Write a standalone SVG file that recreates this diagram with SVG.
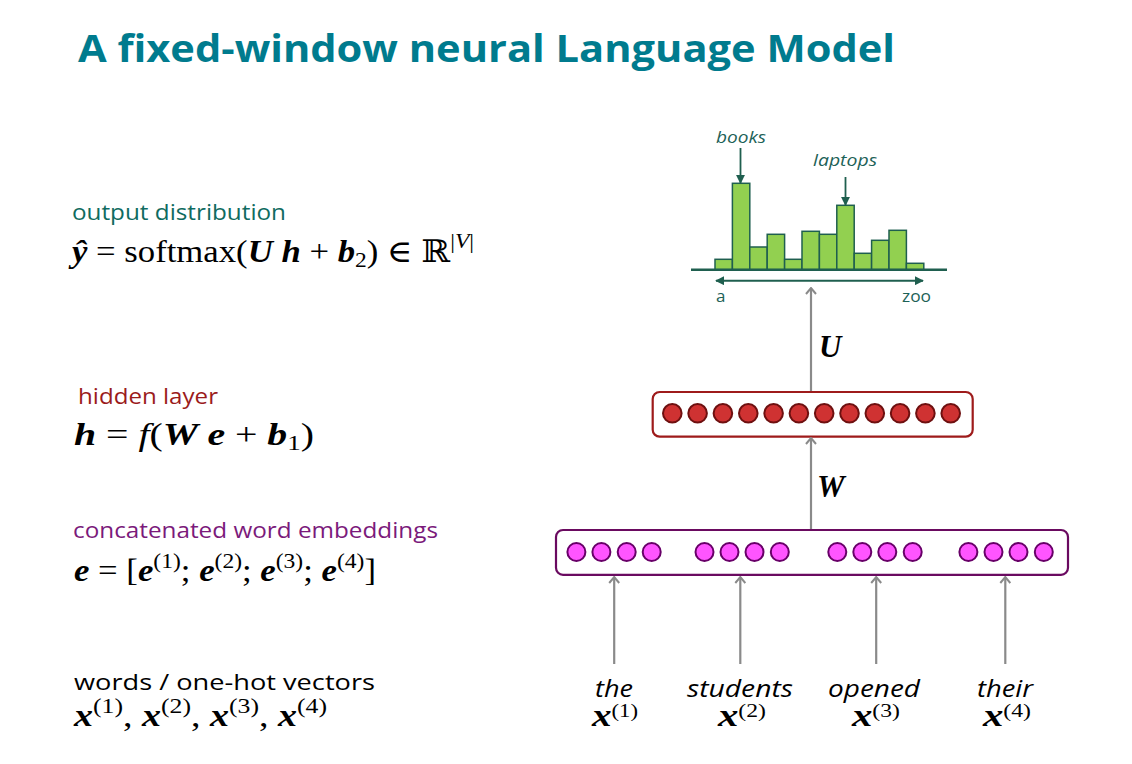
<svg xmlns="http://www.w3.org/2000/svg" width="1132" height="764" viewBox="0 0 1132 764">
<style>
.title{font-family:"Open Sans","Liberation Sans",sans-serif;font-weight:bold;font-size:38px;fill:#007b8e}
.lbl{font-family:"Open Sans","Liberation Sans",sans-serif;font-size:22px}
.math{font-family:"Liberation Serif","DejaVu Serif",serif;font-size:31px;fill:#000}
.bi{font-weight:bold;font-style:italic}
.word{font-family:"Open Sans","Liberation Sans",sans-serif;font-style:italic;font-size:24px;fill:#000}
.hist{font-family:"Open Sans","Liberation Sans",sans-serif;font-size:17px;fill:#1d6257}
.bar{fill:#92d050;stroke:#1f5f4f;stroke-width:1.5}
.hc{fill:#cf3232;stroke:#6e1010;stroke-width:2}
.ec{fill:#ff55ff;stroke:#680068;stroke-width:2}
.conn{stroke:#8a8a8a;stroke-width:2.2;fill:none;marker-end:url(#chev)}
</style>
<defs>
<marker id="chev" viewBox="0 0 10 12" refX="9" refY="6" markerWidth="10" markerHeight="12" markerUnits="userSpaceOnUse" orient="auto-start-reverse">
<path d="M3,1 L9,6 L3,11" fill="none" stroke="#8a8a8a" stroke-width="2"/>
</marker>
<marker id="tri" viewBox="0 0 10 10" refX="9" refY="5" markerWidth="9" markerHeight="9" markerUnits="userSpaceOnUse" orient="auto-start-reverse">
<path d="M0,0 L10,5 L0,10 z" fill="#1f5f4f"/>
</marker>
</defs>

<text class="title" x="78" y="62" textLength="817" lengthAdjust="spacingAndGlyphs">A fixed-window neural Language Model</text>

<g id="labels-left">
<text class="lbl" x="72" y="220" fill="#0f6b60" textLength="214" lengthAdjust="spacingAndGlyphs">output distribution</text>
<text class="math" x="72" y="262" textLength="402" lengthAdjust="spacingAndGlyphs"><tspan class="bi">ŷ</tspan> = softmax(<tspan class="bi">U h</tspan> + <tspan class="bi">b</tspan><tspan font-size="21" dy="5">2</tspan><tspan dy="-5">) ∈ ℝ</tspan><tspan font-size="21" dy="-14">|<tspan font-style="italic">V</tspan>|</tspan></text>
<text class="lbl" x="78" y="404" fill="#9b1b1b" textLength="140" lengthAdjust="spacingAndGlyphs">hidden layer</text>
<text class="math" x="74" y="445" textLength="240" lengthAdjust="spacingAndGlyphs"><tspan class="bi">h</tspan> = <tspan font-style="italic">f</tspan>(<tspan class="bi">W e</tspan> + <tspan class="bi">b</tspan><tspan font-size="21" dy="5">1</tspan><tspan dy="-5">)</tspan></text>
<text class="lbl" x="73" y="538" fill="#7b1a7b" textLength="365" lengthAdjust="spacingAndGlyphs">concatenated word embeddings</text>
<text class="math" x="74" y="581" textLength="302" lengthAdjust="spacingAndGlyphs"><tspan class="bi">e</tspan> = [<tspan class="bi">e</tspan><tspan font-size="21" dy="-13">(1)</tspan><tspan dy="13">; </tspan><tspan class="bi">e</tspan><tspan font-size="21" dy="-13">(2)</tspan><tspan dy="13">; </tspan><tspan class="bi">e</tspan><tspan font-size="21" dy="-13">(3)</tspan><tspan dy="13">; </tspan><tspan class="bi">e</tspan><tspan font-size="21" dy="-13">(4)</tspan><tspan dy="13">]</tspan></text>
<text class="lbl" x="74" y="690" fill="#000" font-size="24" textLength="301" lengthAdjust="spacingAndGlyphs">words / one-hot vectors</text>
<text class="math" x="74" y="726" textLength="253" lengthAdjust="spacingAndGlyphs"><tspan class="bi">x</tspan><tspan font-size="21" dy="-13">(1)</tspan><tspan dy="13">, </tspan><tspan class="bi">x</tspan><tspan font-size="21" dy="-13">(2)</tspan><tspan dy="13">, </tspan><tspan class="bi">x</tspan><tspan font-size="21" dy="-13">(3)</tspan><tspan dy="13">, </tspan><tspan class="bi">x</tspan><tspan font-size="21" dy="-13">(4)</tspan></text>
</g>

<g id="histogram">
<rect class="bar" x="715" y="259.3" width="17.4" height="10.4"/>
<rect class="bar" x="732.4" y="183.3" width="17.4" height="86.4"/>
<rect class="bar" x="749.8" y="247" width="17.4" height="22.7"/>
<rect class="bar" x="767.2" y="234.3" width="17.4" height="35.4"/>
<rect class="bar" x="784.6" y="259.3" width="17.4" height="10.4"/>
<rect class="bar" x="802" y="231.3" width="17.4" height="38.4"/>
<rect class="bar" x="819.4" y="234.3" width="17.4" height="35.4"/>
<rect class="bar" x="836.8" y="205.3" width="17.4" height="64.4"/>
<rect class="bar" x="854.2" y="253.3" width="17.4" height="16.4"/>
<rect class="bar" x="871.6" y="240.3" width="17.4" height="29.4"/>
<rect class="bar" x="889" y="230.3" width="17.4" height="39.4"/>
<rect class="bar" x="906.4" y="263.3" width="17.4" height="6.4"/>
<line x1="691" y1="269.7" x2="947" y2="269.7" stroke="#1f5f4f" stroke-width="2.5"/>
<line x1="716" y1="280.7" x2="923" y2="280.7" stroke="#1f5f4f" stroke-width="2" marker-start="url(#tri)" marker-end="url(#tri)"/>
<text class="hist" x="716" y="302">a</text>
<text class="hist" x="902" y="302" textLength="29" lengthAdjust="spacingAndGlyphs">zoo</text>
<text class="hist" x="716" y="143" font-style="italic" textLength="50" lengthAdjust="spacingAndGlyphs">books</text>
<text class="hist" x="813" y="166" font-style="italic" textLength="64" lengthAdjust="spacingAndGlyphs">laptops</text>
<line x1="740.5" y1="148" x2="740.5" y2="183" stroke="#1f5f4f" stroke-width="1.8" marker-end="url(#tri)"/>
<line x1="845.5" y1="177" x2="845.5" y2="205" stroke="#1f5f4f" stroke-width="1.8" marker-end="url(#tri)"/>
</g>

<g id="hidden-layer">
<rect x="652.7" y="392" width="320" height="44.7" rx="7" fill="#fff" stroke="#9e1b1b" stroke-width="2.2"/>
<circle class="hc" cx="672.3" cy="413.3" r="9.3"/>
<circle class="hc" cx="697.6" cy="413.3" r="9.3"/>
<circle class="hc" cx="722.9" cy="413.3" r="9.3"/>
<circle class="hc" cx="748.3" cy="413.3" r="9.3"/>
<circle class="hc" cx="773.6" cy="413.3" r="9.3"/>
<circle class="hc" cx="798.9" cy="413.3" r="9.3"/>
<circle class="hc" cx="824.2" cy="413.3" r="9.3"/>
<circle class="hc" cx="849.5" cy="413.3" r="9.3"/>
<circle class="hc" cx="874.8" cy="413.3" r="9.3"/>
<circle class="hc" cx="900.1" cy="413.3" r="9.3"/>
<circle class="hc" cx="925.4" cy="413.3" r="9.3"/>
<circle class="hc" cx="950.7" cy="413.3" r="9.3"/>
</g>

<g id="embedding-layer">
<rect x="556" y="530" width="512" height="44.8" rx="7" fill="#fff" stroke="#6a0a60" stroke-width="2.2"/>
<circle class="ec" cx="576.4" cy="552" r="9"/>
<circle class="ec" cx="601.4" cy="552" r="9"/>
<circle class="ec" cx="626.7" cy="552" r="9"/>
<circle class="ec" cx="651.7" cy="552" r="9"/>
<circle class="ec" cx="704.5" cy="552" r="9"/>
<circle class="ec" cx="729.5" cy="552" r="9"/>
<circle class="ec" cx="754.5" cy="552" r="9"/>
<circle class="ec" cx="779.8" cy="552" r="9"/>
<circle class="ec" cx="837.3" cy="552" r="9"/>
<circle class="ec" cx="862.3" cy="552" r="9"/>
<circle class="ec" cx="887.3" cy="552" r="9"/>
<circle class="ec" cx="912.7" cy="552" r="9"/>
<circle class="ec" cx="968.4" cy="552" r="9"/>
<circle class="ec" cx="993.5" cy="552" r="9"/>
<circle class="ec" cx="1018.5" cy="552" r="9"/>
<circle class="ec" cx="1043.8" cy="552" r="9"/>
</g>

<g id="connectors">
<line class="conn" x1="811" y1="391" x2="811" y2="288"/>
<line class="conn" x1="811" y1="529" x2="811" y2="438"/>
<line class="conn" x1="614.2" y1="664" x2="614.2" y2="577"/>
<line class="conn" x1="740.3" y1="664" x2="740.3" y2="577"/>
<line class="conn" x1="876.2" y1="664" x2="876.2" y2="577"/>
<line class="conn" x1="1005.3" y1="664" x2="1005.3" y2="577"/>
</g>

<g id="weight-labels">
<text class="math bi" x="819" y="357" font-size="37">U</text>
<text class="math bi" x="817" y="497" font-size="36">W</text>
</g>

<g id="words">
<text class="word" x="595" y="697" textLength="38" lengthAdjust="spacingAndGlyphs">the</text>
<text class="word" x="687" y="697" textLength="106" lengthAdjust="spacingAndGlyphs">students</text>
<text class="word" x="828" y="697" textLength="92" lengthAdjust="spacingAndGlyphs">opened</text>
<text class="word" x="977" y="697" textLength="56" lengthAdjust="spacingAndGlyphs">their</text>
<text class="math" x="592" y="726" textLength="46" lengthAdjust="spacingAndGlyphs"><tspan class="bi">x</tspan><tspan font-size="18" dy="-9">(1)</tspan></text>
<text class="math" x="718" y="726" textLength="48" lengthAdjust="spacingAndGlyphs"><tspan class="bi">x</tspan><tspan font-size="18" dy="-9">(2)</tspan></text>
<text class="math" x="852" y="726" textLength="48" lengthAdjust="spacingAndGlyphs"><tspan class="bi">x</tspan><tspan font-size="18" dy="-9">(3)</tspan></text>
<text class="math" x="983" y="726" textLength="48" lengthAdjust="spacingAndGlyphs"><tspan class="bi">x</tspan><tspan font-size="18" dy="-9">(4)</tspan></text>
</g>
</svg>
